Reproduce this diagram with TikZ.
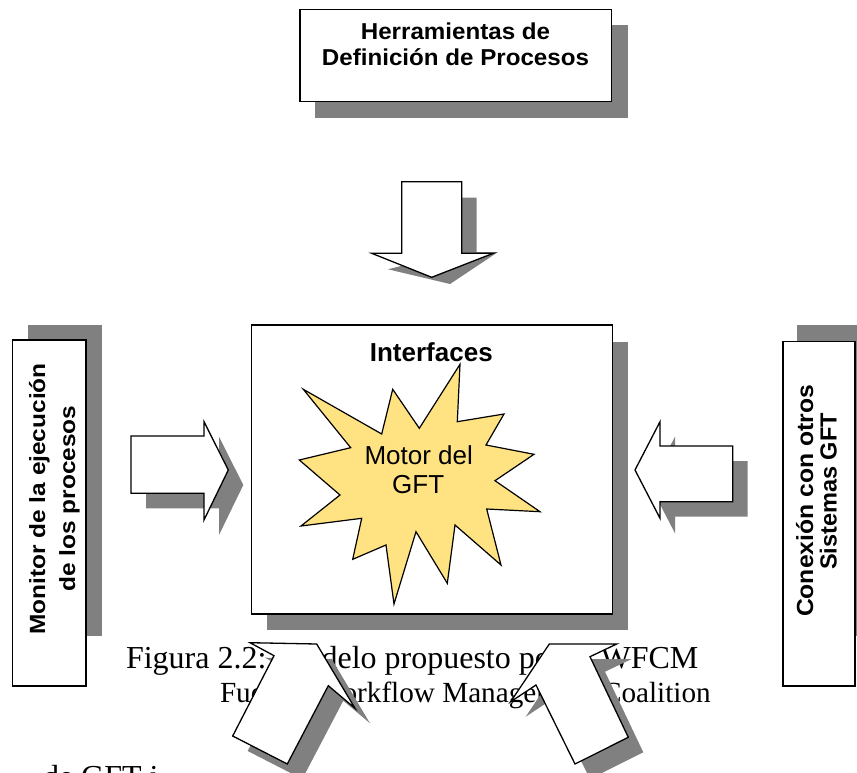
\documentclass[tikz,border=0pt]{standalone}
\usepackage{fontspec}
\setmainfont{Liberation Serif}
\newfontfamily\arial{Liberation Sans}
\definecolor{shade}{RGB}{128,128,128}
\definecolor{burst}{RGB}{255,227,130}
\tikzset{
  panel/.style={draw=black, line width=1.4pt, fill=white},
  dropshadow/.style={fill=shade, draw=none},
  txt/.style={inner sep=0pt, outer sep=0pt, anchor=base},
  pics/arrowdown/.style={code={\path[pic actions] (401.7,181.7) -- (461.7,181.7) -- (461.7,253.3) -- (493.3,253.3) -- (431.7,277.3) -- (371.7,253.3) -- (401.7,253.3) -- cycle;}},
  pics/arrowright/.style={code={\path[pic actions] (131,436) -- (204,436) -- (204,421.7) -- (228.3,470) -- (204,520) -- (204,493.3) -- (131,493.3) -- cycle;}},
  pics/arrowleft/.style={code={\path[pic actions] (732.7,446) -- (660,446) -- (660,421.7) -- (635,470) -- (660,518.3) -- (660,501.7) -- (732.7,501.7) -- cycle;}},
  pics/arrowupright/.style={code={\path[pic actions] (250,642.7) -- (316.7,644) -- (355,708.3) -- (328.3,685.7) -- (287.3,764) -- (232.7,736) -- (274,655.7) -- cycle;}},
  pics/arrowupleft/.style={code={\path[pic actions] (549.3,644) -- (616.7,644) -- (590,656.7) -- (628.3,737.3) -- (575,764) -- (536,685) -- (510.7,701.7) -- cycle;}},
}
\begin{document}
\begin{tikzpicture}[x=1pt,y=-1pt]
\useasboundingbox (0,0) rectangle (857,773);
\clip (0,0) rectangle (857,773);

% running text of the page, lying under the drawing
\node[txt, anchor=base west, font=\fontsize{32}{36}\selectfont] (caption) at (126,668) {Figura 2.2: Modelo propuesto por la WFCM};
\node[txt, anchor=base west, font=\fontsize{29.2}{33}\selectfont] (source) at (220,702.5) {Fuente: Workflow Management Coalition};
\node[txt, anchor=base west, font=\fontsize{32}{36}\selectfont] (bodyline) at (43,787) {de GFT i};

% drop shadows
\fill[dropshadow] (315,25) rectangle (628,118);
\fill[dropshadow] (266.7,341.7) rectangle (628.3,630);
\fill[dropshadow] (28,325) rectangle (101.7,636);
\fill[dropshadow] (797,325) rectangle (875,636);
\fill[dropshadow] (416.7,197.7) -- (476.7,197.7) -- (476.7,252) -- (498,252) -- (450,284) -- (388,269.3) -- (416.7,262) -- cycle;
\pic[dropshadow, shift={(15,15)}] {arrowright};
\pic[dropshadow, shift={(15,15)}] {arrowleft};
\pic[dropshadow, shift={(15,15)}] {arrowupright};
\pic[dropshadow, shift={(15,15)}] {arrowupleft};

% boxes
\draw[panel] (300,9.3) rectangle (611.7,101.7) node[midway] (tools) {};
\draw[panel] (251.7,325) rectangle (612.3,614) node[midway] (engine) {};
\draw[panel] (12.7,340) rectangle (86,686) node[midway] (monitor) {};
\draw[panel] (783,341.7) rectangle (855,686) node[midway] (others) {};

% block arrows
\pic[panel, line width=1.3pt] {arrowdown};
\pic[panel, line width=1.3pt] {arrowright};
\pic[panel, line width=1.3pt] {arrowleft};
\pic[panel, line width=1.3pt] {arrowupright};
\pic[panel, line width=1.3pt] {arrowupleft};

% star of the workflow engine
\draw[line width=1.2pt, fill=burst, line join=miter]
  (303.3,389.3) -- (381.7,434) -- (392.7,389.3) -- (419.3,428.3) -- (460,364.3) -- (457.3,421.7)
  -- (504,414) -- (486,445) -- (534,454.3) -- (495,480.7) -- (540,511.7) -- (486.7,509)
  -- (501,565) -- (455,525) -- (447.3,583.3) -- (416,531.7) -- (394,604) -- (386,545)
  -- (352.7,559.3) -- (361.7,518.3) -- (301,526) -- (340,495) -- (299.3,460) -- (350.7,447.7) -- cycle;

% labels
\node[txt, font=\arial\bfseries\fontsize{23}{27}\selectfont] (toolsA) at (455.5,40) {\scalebox{1.05}[1]{Herramientas de}};
\node[txt, font=\arial\bfseries\fontsize{23}{27}\selectfont] (toolsB) at (455.5,65.7) {\scalebox{1.05}[1]{Definición de Procesos}};
\node[txt, font=\arial\bfseries\fontsize{26}{30}\selectfont] (iface) at (431.3,361.7) {Interfaces};
\node[txt, font=\arial\fontsize{26}{30}\selectfont] (motorA) at (418.7,464) {Motor del};
\node[txt, font=\arial\fontsize{26}{30}\selectfont] (motorB) at (418.2,493.3) {GFT};
\node[txt, rotate=90, font=\arial\bfseries\fontsize{22}{26}\selectfont] (monA) at (45,499) {\scalebox{1.11}[1]{Monitor de la ejecución}};
\node[txt, rotate=90, font=\arial\bfseries\fontsize{22}{26}\selectfont] (monB) at (75,498.5) {\scalebox{1.11}[1]{de los procesos}};
\node[txt, rotate=90, font=\arial\bfseries\fontsize{23.3}{27}\selectfont] (othA) at (813,501) {\scalebox{1.06}[1]{Conexión con otros}};
\node[txt, rotate=90, font=\arial\bfseries\fontsize{23.3}{27}\selectfont] (othB) at (836.7,491.5) {\scalebox{1.01}[1]{Sistemas GFT}};
\end{tikzpicture}
\end{document}
